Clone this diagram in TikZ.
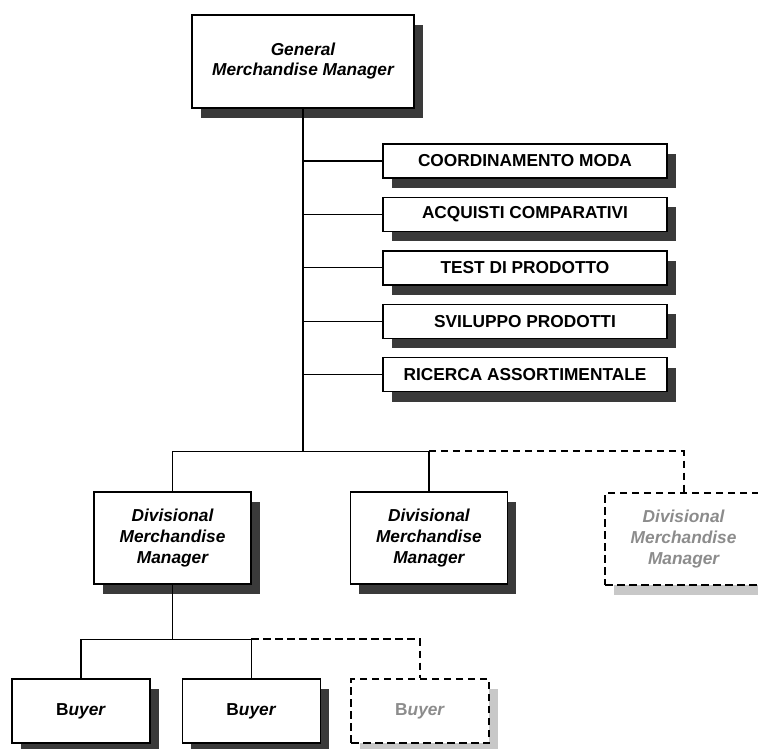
\documentclass[tikz,border=0pt]{standalone}
\usepackage{fontspec}
\setmainfont{Liberation Sans}
\usetikzlibrary{positioning,shadows}
\definecolor{orgshadow}{HTML}{3A3A3A}
\definecolor{orgghost}{HTML}{C8C8C8}
\definecolor{orgghosttext}{HTML}{8C8C8C}

\begin{document}
\begin{tikzpicture}[
  font=\fontsize{17.3}{20.5}\selectfont\bfseries,
  line width=1.3pt,
  unit/.style={draw, fill=white, line width=1.4pt, align=center, inner sep=0pt,
               general shadow={fill=#1, shadow xshift=9pt, shadow yshift=-10pt}},
  unit/.default=orgshadow,
  head/.style={unit, minimum width=222pt, minimum height=93pt,
               font=\fontsize{17.3}{20}\selectfont\bfseries\itshape},
  office/.style={unit, minimum width=284pt, minimum height=34pt},
  division/.style={unit=#1, minimum width=157pt, minimum height=92pt,
                   font=\fontsize{17.3}{21.3}\selectfont\bfseries\itshape},
  division/.default=orgshadow,
  buyer/.style={unit=#1, minimum width=138pt, minimum height=64pt},
  buyer/.default=orgshadow,
  gap/.style={dash pattern=on 7.5pt off 4.5pt, line width=2pt},
  vacant/.style={gap, text=orgghosttext}]
  \useasboundingbox (0,0) rectangle (758pt,-749pt);
  % top of the chart
  \node[head] (gmm) at (303pt,-61.5pt) {General\\Merchandise Manager};
  % staff offices
  \node[office] (moda) at (525pt,-161pt) {COORDINAMENTO MODA};
  \node[office, below=18pt of moda] (acquisti) {ACQUISTI COMPARATIVI};
  \node[office, below=18pt of acquisti] (test) {TEST DI PRODOTTO};
  \node[office, below=18pt of test] (sviluppo) {SVILUPPO PRODOTTI};
  \node[office, below=18pt of sviluppo] (ricerca) {RICERCA ASSORTIMENTALE};
  % divisions
  \node[division] (dmm1) at (172.5pt,-538pt) {Divisional\\Merchandise\\Manager};
  \node[division, right=98pt of dmm1] (dmm2) {Divisional\\Merchandise\\Manager};
  \node[division=orgghost, vacant, right=96pt of dmm2, yshift=-1pt] (dmm3) {Divisional\\Merchandise\\Manager};
  % buyers
  \node[buyer] (b1) at (81pt,-711pt) {B\textit{uyer}};
  \node[buyer, right=31pt of b1] (b2) {B\textit{uyer}};
  \node[buyer=orgghost, vacant, right=29pt of b2] (b3) {B\textit{uyer}};
  % connectors
  \coordinate (jdiv) at ([yshift=40pt]gmm.south |- dmm1.north);
  \coordinate (jbuy) at ([yshift=39pt]dmm1.south |- b1.north);
  \draw (gmm.south) -- (jdiv);
  \foreach \n in {moda,acquisti,test,sviluppo,ricerca}
    \draw (gmm.south |- \n.west) -- (\n.west);
  \draw (dmm1.north) |- (jdiv) -| (dmm2.north);
  \draw[gap] (dmm2.north |- jdiv) -| (dmm3.north);
  \draw (dmm1.south) -- (jbuy);
  \draw (b1.north) |- (jbuy) -| (b2.north);
  \draw[gap] (b2.north |- jbuy) -| (b3.north);
\end{tikzpicture}
\end{document}
